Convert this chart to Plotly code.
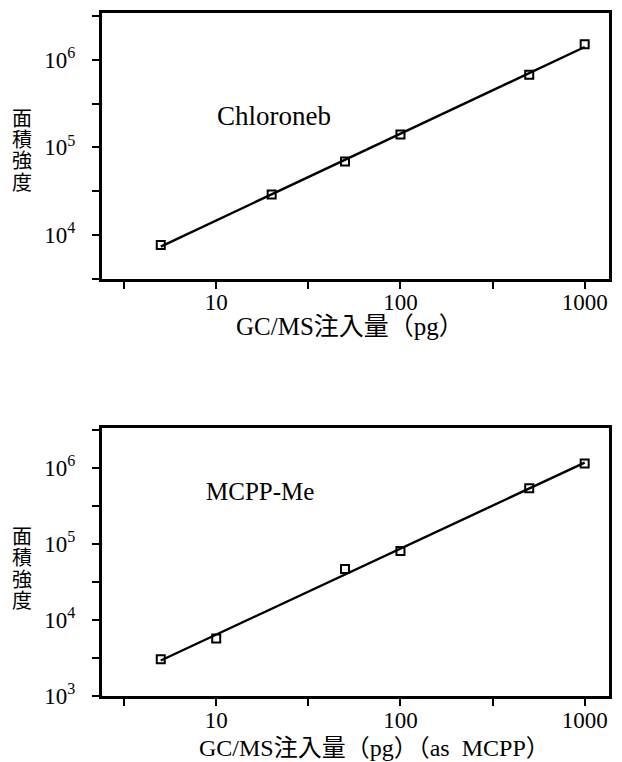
import numpy as np
import plotly.graph_objects as go
from plotly.subplots import make_subplots

# Data
chloroneb_x = [5, 20, 50, 100, 500, 1000]
chloroneb_y = [7700, 29000, 69000, 140000, 676000, 1500000]
mcpp_x = [5, 10, 50, 100, 500, 1000]
mcpp_y = [3050, 5700, 47000, 81000, 540000, 1150000]

x_tickvals = [10**0.5, 10, 10**1.5, 100, 10**2.5, 1000]
x_ticktext = ["", "10", "", "100", "", "1000"]
y_tickvals = [1e3, 10**3.5, 1e4, 10**4.5, 1e5, 10**5.5, 1e6, 10**6.5]
y_ticktext = ["10<sup>3</sup>", "", "10<sup>4</sup>", "", "10<sup>5</sup>", "", "10<sup>6</sup>", ""]
y_title_chars = ["面", "積", "強", "度"]

FONT = "Liberation Serif, Noto Sans CJK JP"

fig = make_subplots(rows=2, cols=1, vertical_spacing=0.05)
fig.update_layout(
    xaxis=dict(domain=[0, 1]), yaxis=dict(domain=[0.6108, 1.0]),
    xaxis2=dict(domain=[0, 1]), yaxis2=dict(domain=[0.0, 0.3921]),
)


def fit_line(xs, ys):
    lx = np.log10(xs)
    ly = np.log10(ys)
    a, b = np.polyfit(lx, ly, 1)
    xe = np.array([min(xs), max(xs)])
    return xe, 10 ** (a * np.log10(xe) + b)


for row, (xs, ys) in enumerate([(chloroneb_x, chloroneb_y), (mcpp_x, mcpp_y)], start=1):
    lx, ly = fit_line(xs, ys)
    fig.add_trace(go.Scatter(x=lx, y=ly, mode="lines",
                             line=dict(color="black", width=2.4), showlegend=False),
                  row=row, col=1)
    fig.add_trace(go.Scatter(x=xs, y=ys, mode="markers",
                             marker=dict(symbol="square-open", size=8, color="black",
                                         line=dict(width=2, color="black")),
                             showlegend=False),
                  row=row, col=1)

axis_common = dict(type="log", showgrid=False, zeroline=False, showline=True,
                   linecolor="black", linewidth=3, mirror=True,
                   ticks="outside", ticklen=7, tickwidth=2, tickcolor="black",
                   tickfont=dict(family=FONT, size=23, color="black"))

fig.update_xaxes(**axis_common, range=[0.38, 3.132], tickvals=x_tickvals, ticktext=x_ticktext,
                 ticklabelstandoff=-6)
fig.update_yaxes(**axis_common, tickvals=y_tickvals, ticktext=y_ticktext,
                 ticklabelstandoff=12)
fig.update_yaxes(range=[3.5, 6.534], row=1, col=1)
fig.update_yaxes(range=[3.0, 6.524], row=2, col=1)

annotations = [
    dict(text="Chloroneb", x=0.223, y=0.849, xanchor="left", yanchor="middle",
         font=dict(size=27)),
    dict(text="MCPP-Me", x=0.201, y=0.299, xanchor="left", yanchor="middle",
         font=dict(size=25)),
    dict(text="GC/MS注入量（pg）", x=0.49, y=0.5408, xanchor="center", yanchor="middle",
         font=dict(size=25)),
    dict(text="GC/MS注入量（pg）（as  MCPP）", x=0.537, y=-0.0758, xanchor="center",
         yanchor="middle", font=dict(size=24)),
]
# vertical y-axis titles, one character per line
for top_px in (116, 536):
    for i, ch in enumerate(y_title_chars):
        py = top_px + i * 21.5
        annotations.append(dict(text=ch, x=-0.157, y=(696 - py) / 686,
                                xanchor="center", yanchor="middle", font=dict(size=20)))

for a in annotations:
    a.update(xref="paper", yref="paper", showarrow=False)
    a["font"].update(family=FONT, color="black")

fig.update_layout(
    width=622, height=762,
    margin=dict(l=102, r=10, t=10, b=66),
    paper_bgcolor="white", plot_bgcolor="white",
    annotations=annotations,
    font=dict(family=FONT, color="black"),
)

fig.write_html("out.html")
